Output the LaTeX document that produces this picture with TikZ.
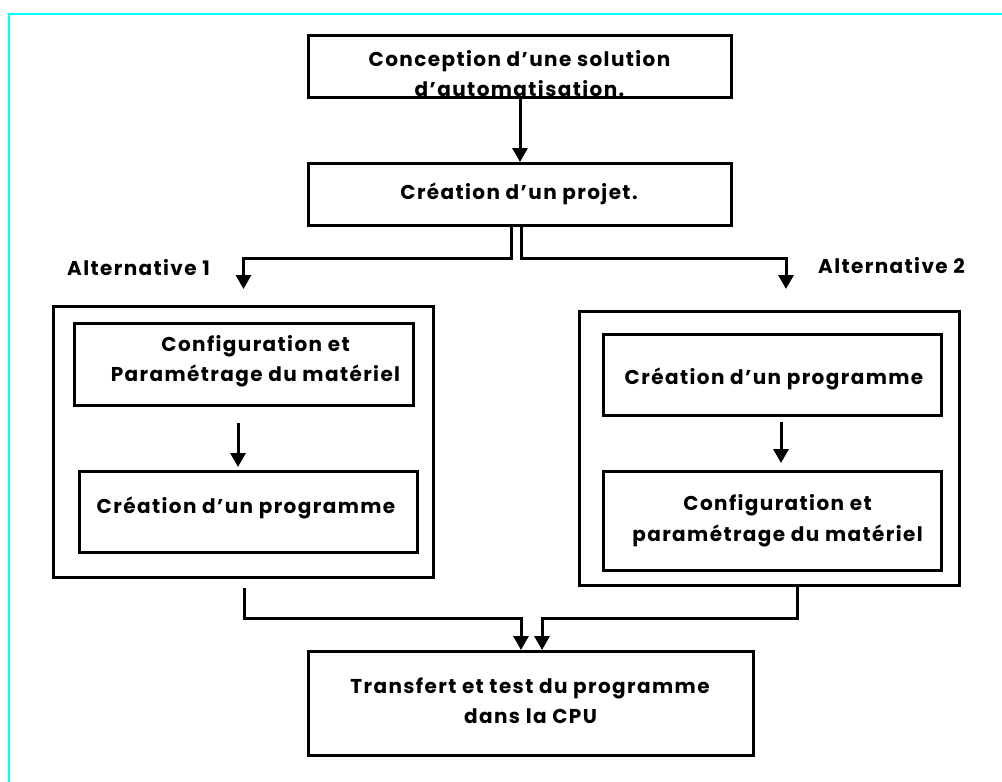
\documentclass[tikz,border=0pt]{standalone}
\usepackage{fontspec}
\setmainfont{Poppins}[LetterSpace=7]
\usetikzlibrary{arrows.meta,calc}
\definecolor{framecyan}{RGB}{0,255,255}
\begin{document}
\begin{tikzpicture}[x=1pt,y=-1pt,
  box/.style={draw, line width=3pt, inner sep=0pt},
  lbl/.style={font=\bfseries\fontsize{20}{24}\selectfont, inner sep=0pt, anchor=base},
  flow/.style={line width=3pt, -{Triangle[width=15pt,length=14pt]}}]
\useasboundingbox (0,0) rectangle (1002,782);
% page frame
\draw[framecyan, line width=2pt] (9,800) -- (9,13.5) -- (1020,13.5);

% main steps
\node[box, minimum width=423pt, minimum height=62pt] (concept) at (520,66.5) {};
\node[box, minimum width=423pt, minimum height=62pt] (projet) at (520,194.5) {};
\node[box, minimum width=445pt, minimum height=104pt] (transfert) at (531,703.5) {};

% alternative 1
\node[box, minimum width=380pt, minimum height=271pt] (altA) at (243.5,442) {};
\node[box, minimum width=339pt, minimum height=82pt] (altAcfg) at (244,364.5) {};
\node[box, minimum width=338pt, minimum height=81pt] (altAprg) at (248.5,512) {};

% alternative 2
\node[box, minimum width=380pt, minimum height=274pt] (altB) at (769.5,448.5) {};
\node[box, minimum width=338pt, minimum height=81pt] (altBprg) at (772.5,375) {};
\node[box, minimum width=338pt, minimum height=99pt] (altBcfg) at (772.5,521) {};

% labels
\node[lbl] (tconceptA) at (519.5,66) {Conception d’une solution};
\node[lbl] (tconceptB) at (519.5,96) {d’automatisation.};
\node[lbl] (tprojet) at (519,199) {Création d’un projet.};
\node[lbl] (talt1) at (138.5,275) {Alternative 1};
\node[lbl] (talt2) at (891.5,273) {Alternative 2};
\node[lbl] (tAcfg1) at (255.5,351.5) {Configuration et};
\node[lbl] (tAcfg2) at (255.5,381) {Paramétrage du matériel};
\node[lbl] (tAprg) at (246,513) {Création d’un programme};
\node[lbl] (tBprg) at (774,384) {Création d’un programme};
\node[lbl] (tBcfg1) at (777.5,510.5) {Configuration et};
\node[lbl] (tBcfg2) at (777.5,541.5) {paramétrage du matériel};
\node[lbl] (ttr1) at (530,693) {Transfert et test du programme};
\node[lbl] (ttr2) at (530.5,723) {dans la CPU};

% free ends of the branching arrows
\coordinate (intoA) at ([yshift=16pt]altA.north);
\coordinate (intoB) at ([shift={(16.5,-21)}]altB.north);

% connectors
\draw[flow] (concept.south) -- (projet.north);
\draw[flow] ([xshift=-9pt]projet.south) -- ++(0,31) -| (intoA);
\draw[flow] ([xshift=1pt]projet.south) -- ++(0,31) -| (intoB);
\draw[flow] ([shift={(-6,16)}]altAcfg.south) -- ([shift={(-10.5,-3)}]altAprg.north);
\draw[flow] ([shift={(8.5,5)}]altBprg.south) -- ([shift={(8.5,-7)}]altBcfg.north);
\draw[flow] ([shift={(0.5,9)}]altA.south) -- ++(0,30) -| ([xshift=-10pt]transfert.north);
\draw[flow] ([xshift=27.5pt]altB.south) -- ++(0,31) -| ([xshift=11pt]transfert.north);
\end{tikzpicture}
\end{document}
